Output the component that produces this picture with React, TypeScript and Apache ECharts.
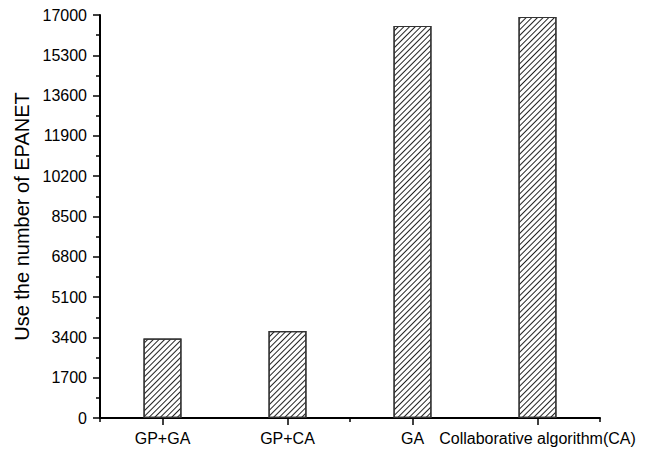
import React, { useEffect, useRef } from "react";
import * as echarts from "echarts";

// Categories and counts of EPANET calls per method
const categories = ["GP+GA", "GP+CA", "GA", "Collaborative algorithm(CA)"];
const epanetCalls = [3350, 3670, 16540, 16920];
const yTicks = { min: 0, max: 17000, interval: 1700 };
const yAxisTitle = "Use the number of EPANET";

const FONT = "Liberation Sans, Arial, sans-serif";

export default function App() {
  const ref = useRef<HTMLDivElement>(null);

  useEffect(() => {
    if (!ref.current) return;
    const chart = echarts.init(ref.current, undefined, { renderer: "svg" });
    chart.setOption({
      animation: false,
      backgroundColor: "#fff",
      grid: { left: 100, right: 67, top: 15, bottom: 32, containLabel: false },
      xAxis: [
        {
          type: "category",
          data: categories,
          axisLine: { show: true, lineStyle: { color: "#000", width: 2 } },
          axisTick: { show: true, alignWithLabel: true, length: 7, lineStyle: { color: "#000", width: 1.5 } },
          axisLabel: { color: "#000", fontSize: 16, fontFamily: FONT, margin: 12, interval: 0 },
          splitLine: { show: false },
        },
        {
          // boundary ticks between categories
          type: "category",
          data: categories,
          position: "bottom",
          axisLine: { show: false },
          axisTick: { show: true, length: 4, lineStyle: { color: "#000", width: 1.5 } },
          axisLabel: { show: false },
          splitLine: { show: false },
        },
      ],
      yAxis: {
        type: "value",
        min: yTicks.min,
        max: yTicks.max,
        interval: yTicks.interval,
        name: yAxisTitle,
        nameLocation: "middle",
        nameGap: 58,
        nameTextStyle: { color: "#000", fontSize: 20, fontFamily: FONT },
        axisLine: { show: true, lineStyle: { color: "#000", width: 2 } },
        axisTick: { show: true, length: 7, lineStyle: { color: "#000", width: 1.5 } },
        minorTick: { show: true, splitNumber: 2, length: 4, lineStyle: { color: "#000", width: 1.5 } },
        axisLabel: {
          color: "#000",
          fontSize: 16,
          fontFamily: FONT,
          margin: 13,
          formatter: (v: number) => String(v),
        },
        splitLine: { show: false },
      },
      series: [
        {
          type: "bar",
          data: epanetCalls,
          barWidth: 38,
          itemStyle: {
            color: "#fff",
            borderColor: "#333",
            borderWidth: 1.2,
            decal: {
              symbol: "rect",
              symbolSize: 1,
              dashArrayX: [1, 0],
              dashArrayY: [1, 2.6],
              rotation: -Math.PI / 4,
              color: "#222",
              backgroundColor: "#fff",
            },
          },
        },
      ],
    });
    return () => chart.dispose();
  }, []);

  return <div ref={ref} style={{ width: 667, height: 450, position: "absolute", left: 0, top: 0 }} />;
}
